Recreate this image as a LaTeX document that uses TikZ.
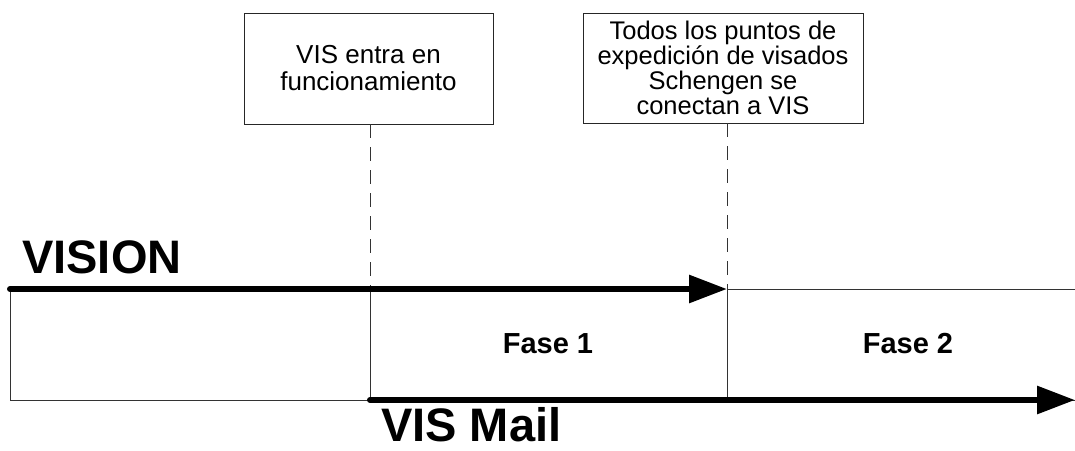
\documentclass[tikz,border=0pt]{standalone}
\usepackage{fontspec}
\setmainfont{Liberation Sans}
\usetikzlibrary{arrows.meta}

\begin{document}
\begin{tikzpicture}[x=1pt,y=-1pt]
% style des noeuds
\tikzstyle{evento} = [rectangle, draw=black!85, line width=0.9pt, align=center, inner sep=0pt]
\tikzstyle{fase} = [font=\fontsize{29}{32}\selectfont\bfseries]
\tikzstyle{linea} = [font=\fontsize{47}{50}\selectfont\bfseries, anchor=base west, inner sep=0pt]
% style des traits
\tikzstyle{fino} = [draw=black!80, line width=1pt]
\tikzstyle{trazo} = [line width=6pt, line cap=round, -{Triangle[length=38pt,width=27pt]}]
\tikzstyle{guia} = [fino, dash pattern=on 14pt off 9pt]

\useasboundingbox (0,0) rectangle (1075,450);

%% placement des noeuds
\node[evento, minimum width=249pt, minimum height=111pt,
      font=\fontsize{26}{27}\selectfont] (inicio) at (368.5,68.5)
      {VIS entra en\\funcionamiento};
\node[evento, minimum width=280pt, minimum height=110pt,
      font=\fontsize{25.5}{25}\selectfont] (conexion) at (723,68)
      {Todos los puntos de\\expedición de visados\\Schengen se\\conectan a VIS};

\coordinate (v0) at (10,289);
\coordinate (v1) at (370,289);
\coordinate (v2) at (727,289);
\coordinate (v3) at (1075,289);
\coordinate (b0) at (10,400);
\coordinate (b1) at (370,400);
\coordinate (b2) at (727,400);
\coordinate (b3) at (1075,400);

\node[linea] (vision) at (22,273) {VISION};
\node[linea] (vismail) at (381,441) {VIS Mail};
\node[fase] (fase1) at (548,344) {Fase 1};
\node[fase] (fase2) at (908,344) {Fase 2};
%
%% placement des traits
\draw[guia] (inicio.south -| v1) -- (v1);
\draw[guia] (conexion.south -| v2) -- (v2);
\draw[fino] (v0) -- (b0) -- (b1) -- (v1);
\draw[fino] (v2) -- (b2);
\draw[fino] (v2) -- (v3);
\draw[fino] (b1) -- (b3);
\draw[trazo] (v0) -- (v2);
\draw[trazo] (b1) -- (b3);
\end{tikzpicture}
\end{document}
